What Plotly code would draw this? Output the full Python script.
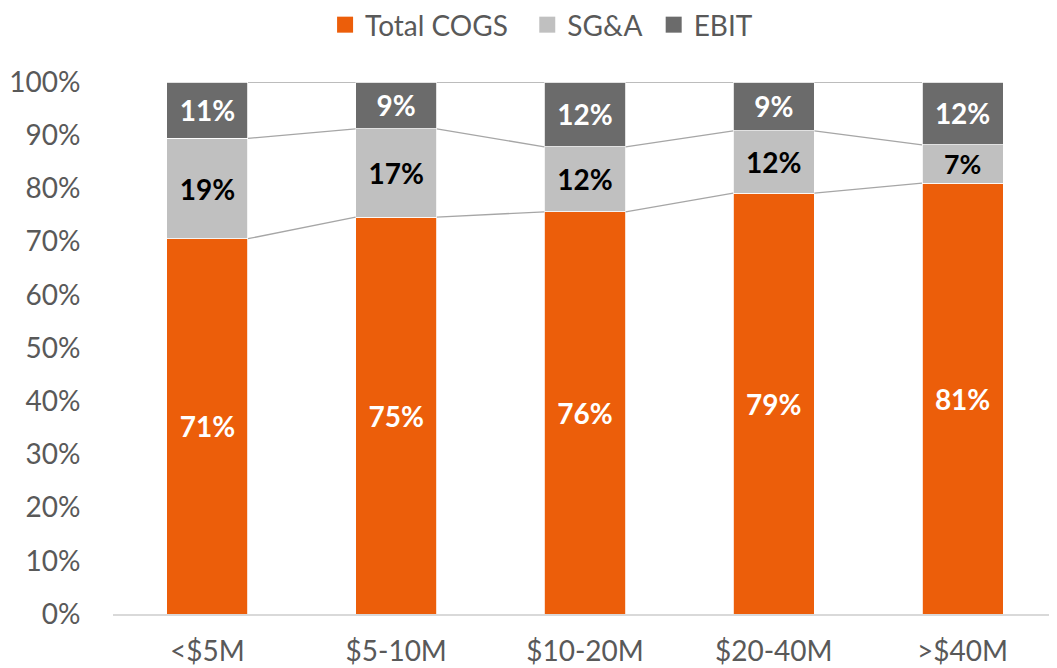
import plotly.graph_objects as go

categories = ["<$5M", "$5-10M", "$10-20M", "$20-40M", ">$40M"]
cogs = [70.55, 74.6, 75.6, 79.1, 81.0]
sga = [18.85, 16.6, 12.2, 11.7, 7.2]
ebit = [10.6, 8.8, 12.2, 9.2, 11.8]
y_ticks = [0, 10, 20, 30, 40, 50, 60, 70, 80, 90, 100]
y_tick_labels = [f"{v}%" for v in y_ticks]
legend_names = ["Total COGS\u00a0\u00a0", "SG&A\u00a0", "EBIT"]

FONT = "Lato"
ORANGE = "#EC5E0A"
LIGHT = "#C0C0C0"
DARK = "#6B6B6B"
TXT = "#595959"
bar_width = 0.43

xs = list(range(len(categories)))
fig = go.Figure()

series = [
    ("Total COGS", cogs, ORANGE, "white"),
    ("SG&A", sga, LIGHT, "black"),
    ("EBIT", ebit, DARK, "white"),
]
for name, vals, color, tcol in series:
    fig.add_trace(go.Bar(
        x=xs, y=vals, name=name, width=bar_width, showlegend=False,
        marker=dict(color=color, line=dict(color="white", width=0.8)),
        texttemplate="%{y:.0f}%", textposition="inside", insidetextanchor="middle",
        textfont=dict(family=FONT, size=28, color=tcol, weight="bold"),
        hoverinfo="skip",
    ))

# series lines connecting segment tops between adjacent bars
cum1 = cogs
cum2 = [a + b for a, b in zip(cogs, sga)]
cum3 = [a + b + c for a, b, c in zip(cogs, sga, ebit)]
for cum in (cum1, cum2, cum3):
    lx, ly = [], []
    for i in range(len(xs) - 1):
        lx += [xs[i] + bar_width / 2, xs[i + 1] - bar_width / 2, None]
        ly += [cum[i], cum[i + 1], None]
    fig.add_trace(go.Scatter(x=lx, y=ly, mode="lines", showlegend=False,
                             line=dict(color="#A6A6A6", width=1.3), hoverinfo="skip"))

# legend entries with large square markers
for (name, vals, color, tcol), lname in zip(series, legend_names):
    fig.add_trace(go.Scatter(x=[None], y=[None], mode="markers", name=lname,
                             marker=dict(symbol="square", size=18, color=color)))

fig.update_layout(
    width=1057, height=668,
    barmode="stack",
    margin=dict(l=105, r=8, t=74, b=62, autoexpand=False),
    plot_bgcolor="white", paper_bgcolor="white",
    font=dict(family=FONT, size=28, color=TXT),
    legend=dict(orientation="h", x=0.454, xanchor="center", y=1.1542, yref="paper",
                yanchor="top", font=dict(size=28, color=TXT),
                itemwidth=30, traceorder="normal", tracegroupgap=0),
    xaxis=dict(tickvals=xs, ticktext=categories, range=[-0.5, len(xs) - 0.5],
               showgrid=False, zeroline=False, showline=True, linecolor="#D9D9D9", linewidth=1.5,
               ticks="outside", ticklen=12, tickcolor="rgba(0,0,0,0)", automargin=False,
               tickfont=dict(size=28, color=TXT)),
    yaxis=dict(range=[0, 100], tickvals=y_ticks, ticktext=y_tick_labels, showgrid=False,
               zeroline=False, showline=False, ticks="outside", ticklen=26, automargin=False,
               tickcolor="rgba(0,0,0,0)", tickfont=dict(size=28, color=TXT)),
)

fig.write_html("out.html")
